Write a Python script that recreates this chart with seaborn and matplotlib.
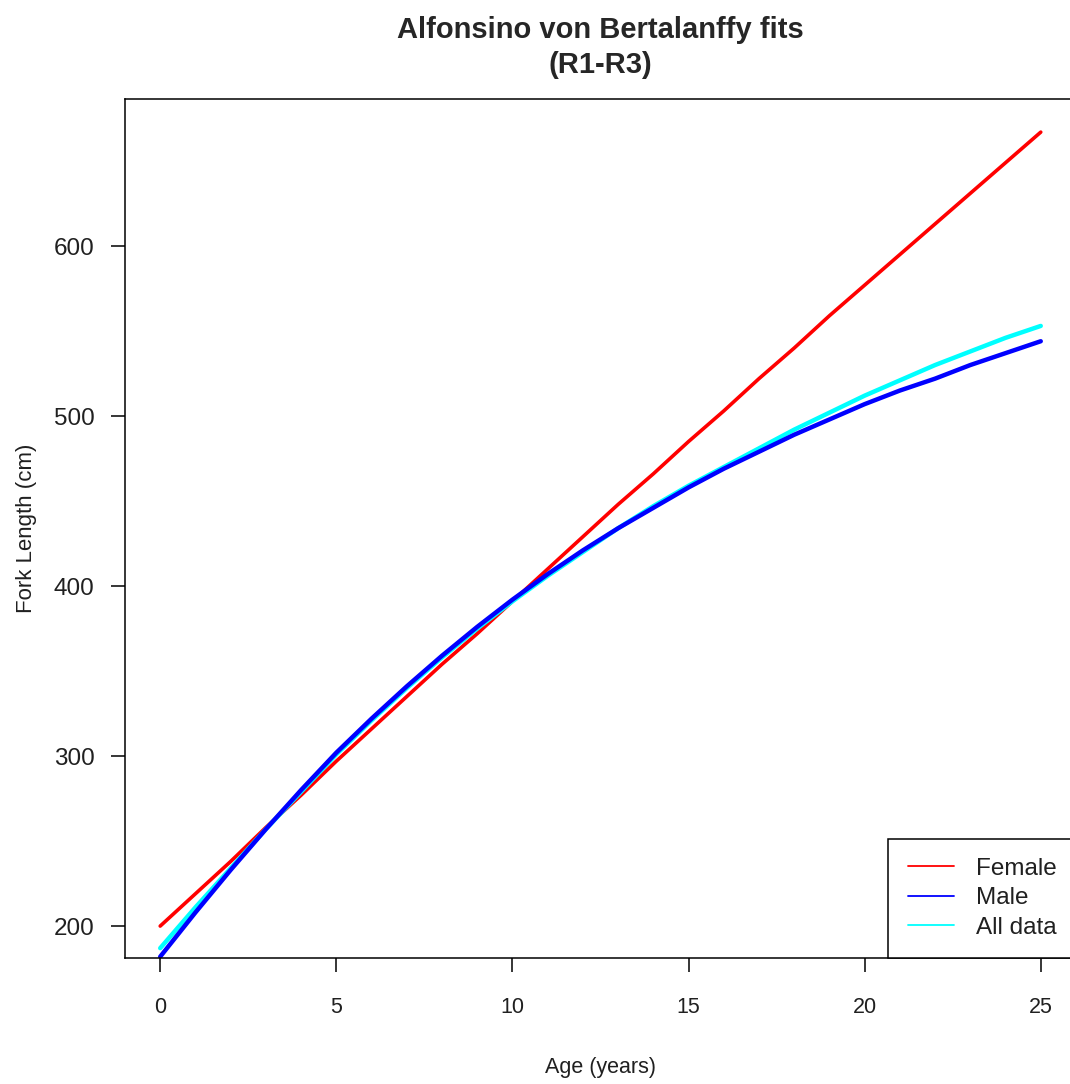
import numpy as np
import pandas as pd
import seaborn as sns
import matplotlib
matplotlib.use("Agg")
import matplotlib.pyplot as plt
from matplotlib.lines import Line2D

# values, one per year of age
ages = list(range(0, 26))
female = [200, 219, 238, 258, 277, 297, 316, 335, 354, 372, 391, 410, 429,
          448, 466, 485, 503, 522, 540, 559, 577, 595, 613, 631, 649, 667]
male = [182, 208, 233, 257, 280, 302, 322, 341, 359, 376, 392, 407, 421,
        434, 446, 458, 469, 479, 489, 498, 507, 515, 522, 530, 537, 544]
all_data = [187, 211, 234, 257, 279, 301, 321, 340, 358, 375, 391, 406, 420,
            434, 447, 459, 470, 481, 492, 502, 512, 521, 530, 538, 546, 553]

series_names = ["Female", "Male", "All data"]
series_colors = ["red", "blue", "cyan"]
x_ticks = [0, 5, 10, 15, 20, 25]
y_ticks = [200, 300, 400, 500, 600]

sns.set_theme(style="ticks")
plt.rcParams["font.family"] = ["Liberation Sans", "DejaVu Sans"]

fig = plt.figure(figsize=(10.7, 10.84), dpi=100)
ax = fig.add_axes([0.1168, 0.1162, 0.8888, 0.7925])

df = pd.DataFrame({"age": ages, "Female": female, "Male": male, "All data": all_data})

sns.lineplot(data=df, x="age", y="Female", color="red", linewidth=2.6, ax=ax)
sns.lineplot(data=df, x="age", y="All data", color="cyan", linewidth=3.2, ax=ax)
sns.lineplot(data=df, x="age", y="Male", color="blue", linewidth=3.2, ax=ax)

ax.set_xlim(-1, 26)
ax.set_ylim(181.2, 686.5)
ax.set_xticks(x_ticks)
ax.set_yticks(y_ticks)

for s in ax.spines.values():
    s.set_visible(True)
    s.set_color("black")
    s.set_linewidth(1.1)

ax.tick_params(axis="both", direction="out", length=10, width=1.1, color="black",
               labelcolor="#202020")
ax.tick_params(axis="y", pad=12, labelsize=17.5)
ax.tick_params(axis="x", pad=18, labelsize=15.5)

ax.set_xlabel("Age (years)", fontsize=15.5, color="#202020", labelpad=28)
ax.set_ylabel("Fork Length (cm)", fontsize=16, color="#202020", labelpad=12)
ax.set_title("Alfonsino von Bertalanffy fits\n(R1-R3)", fontsize=21, fontweight="bold",
             pad=19, linespacing=1.3)

handles = [Line2D([], [], color=c, linewidth=1.3) for c in series_colors]
leg = ax.legend(handles, series_names, loc="lower right", bbox_to_anchor=(1, 0),
                borderaxespad=0, fancybox=False, framealpha=1, edgecolor="black",
                fontsize=17.5, handlelength=1.9, handletextpad=0.9, labelspacing=0.3,
                borderpad=0.8)
leg.get_frame().set_linewidth(1.1)
for t in leg.get_texts():
    t.set_color("#202020")

fig.savefig("out.png", dpi=100)
